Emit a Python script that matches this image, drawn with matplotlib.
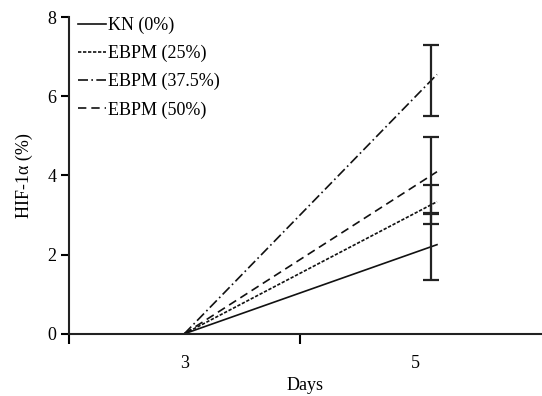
import matplotlib.pyplot as plt
import numpy as np

plt.rcParams['font.family'] = ['Liberation Serif', 'DejaVu Serif']
plt.rcParams['font.size'] = 13

# days and HIF-1a values (%)
days = [3, 5]
labels = ['KN (0%)', 'EBPM (25%)', 'EBPM (37.5%)', 'EBPM (50%)']
day3 = [0, 0, 0, 0]
day5 = [2.2, 3.26, 6.4, 4.0]
err5 = [0.85, 0.49, 0.9, 0.98]
styles = ['-', (0, (2, 1)), (0, (6, 2, 1, 2)), (0, (5, 3))]

fig = plt.figure(figsize=(5.42, 3.96), dpi=100)
ax = fig.add_axes([0.127, 0.157, 0.873, 0.8])

for lab, v3, v5, ls in zip(labels, day3, day5, styles):
    # lines run a little past the error bar, as in the original
    ax.plot([days[0], days[1] + 0.19], [v3, v5 * 2.19 / 2.14],
            color='#111111', linestyle=ls, linewidth=1.2, label=lab)

ax.errorbar([days[1] + 0.14] * len(day5), day5, yerr=err5, fmt='none',
            ecolor='#222222', elinewidth=1.6, capsize=6, capthick=1.6)

ax.set_xlim(2, 6.1)
ax.set_ylim(0, 8)
ax.set_xticks([2, 4])
ax.set_xticklabels([])
ax.set_xticks(days, minor=True)
ax.set_xticklabels(['3', '5'], minor=True)
ax.tick_params(axis='x', which='minor', length=0, pad=15)
ax.tick_params(axis='x', which='major', length=7, width=1.5, direction='out')
ax.set_yticks([0, 2, 4, 6, 8])
ax.tick_params(axis='y', length=6, width=1.5, pad=3)

for s in ['top', 'right']:
    ax.spines[s].set_visible(False)
for s in ['left', 'bottom']:
    ax.spines[s].set_linewidth(1.5)
    ax.spines[s].set_color('#222222')

ax.set_xlabel('Days', labelpad=4)
ax.set_ylabel('HIF-1α (%)', labelpad=10)

ax.legend(loc='upper left', bbox_to_anchor=(-0.014, 1.052), frameon=False,
          handlelength=1.5, handletextpad=0.15, labelspacing=0.6, fontsize=13)

fig.savefig('out.png', dpi=100)
